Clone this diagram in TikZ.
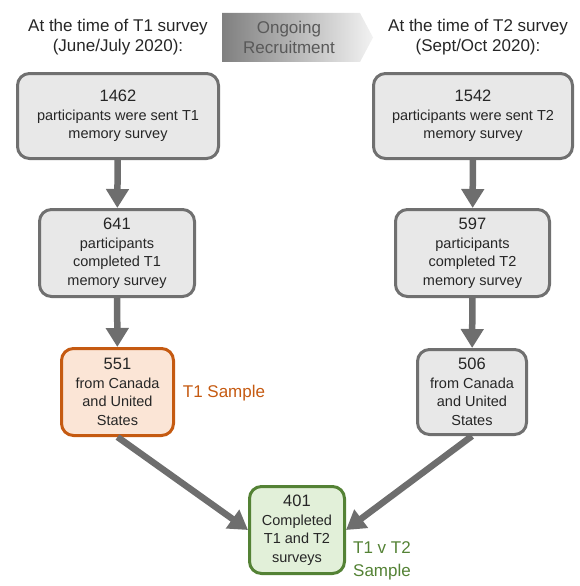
\documentclass[tikz,border=0pt]{standalone}
\usepackage{fontspec}
\setmainfont{Liberation Sans}
\usetikzlibrary{positioning, shapes.geometric, arrows.meta}
\definecolor{boxfill}{HTML}{E8E8E8}
\definecolor{boxline}{HTML}{707070}
\definecolor{arrowgray}{HTML}{6E6E6E}
\definecolor{orangeline}{HTML}{C55A11}
\definecolor{orangefill}{HTML}{FBE5D6}
\definecolor{greenline}{HTML}{548235}
\definecolor{greenfill}{HTML}{E2F0D9}
\definecolor{txt}{HTML}{262626}
\newcommand{\num}[1]{{\fontsize{16.5}{19}\selectfont #1}}

\begin{document}
\begin{tikzpicture} [x=1pt, y=-1pt,
  box/.style={rectangle, rounded corners=12pt, draw=boxline, fill=boxfill, line width=3pt, align=center, text=txt, font=\fontsize{14.5}{18.5}\selectfont, inner sep=1pt},
  head/.style={align=center, text=txt, font=\fontsize{17}{20}\selectfont},
  flow/.style={line width=6.5pt, draw=arrowgray, -{Triangle[length=19pt, width=22pt]}}]
  \useasboundingbox (0,0) rectangle (579,586);

  % header
  \shade[left color=black!50, right color=black!5, shading angle=90]
    (222,13) -- (360,13) -- (373,37.5) -- (360,62) -- (222,62) -- cycle;
  \draw (118,37) node[head](lhd) {At the time of T1 survey\\(June/July 2020):};
  \draw (289,37) node[head, text=black!65](rec) {Ongoing\\Recruitment};
  \draw (478,37) node[head](rhd) {At the time of T2 survey\\(Sept/Oct 2020):};

  % T1 column
  \draw (118,116) node[box, minimum width=201, minimum height=85](sentA) {\num{1462}\\participants were sent T1\\memory survey};
  \draw (117,253) node[box, minimum width=155, minimum height=87](compA) {\num{641}\\participants\\completed T1\\memory survey};
  \draw (117.5,392) node[box, draw=orangeline, fill=orangefill, minimum width=112, minimum height=87](ctryA) {\num{551}\\from Canada\\and United\\States};
  \draw (224,393) node[text=orangeline, font=\fontsize{17}{20}\selectfont](sampA) {T1 Sample};

  % T2 column
  \draw (473,116) node[box, minimum width=199, minimum height=85](sentB) {\num{1542}\\participants were sent T2\\memory survey};
  \draw (472.5,253) node[box, minimum width=154, minimum height=87](compB) {\num{597}\\participants\\completed T2\\memory survey};
  \draw (472,392) node[box, minimum width=109, minimum height=85](ctryB) {\num{506}\\from Canada\\and United\\States};

  % both
  \draw (297,530) node[box, draw=greenline, fill=greenfill, minimum width=95, minimum height=87](both) {\num{401}\\Completed\\T1 and T2\\surveys};
  \draw (382,561) node[align=center, text=greenline, font=\fontsize{17}{23}\selectfont](sampB) {T1 v T2\\Sample};

\path (sentA) edge[flow] (compA)
      (compA) edge[flow] (ctryA)
      (sentB) edge[flow] (compB)
      (compB) edge[flow] (ctryB)
      (ctryA.south) edge[flow] (both.west)
      (ctryB.south) edge[flow] (both.east);
\end{tikzpicture}
\end{document}
